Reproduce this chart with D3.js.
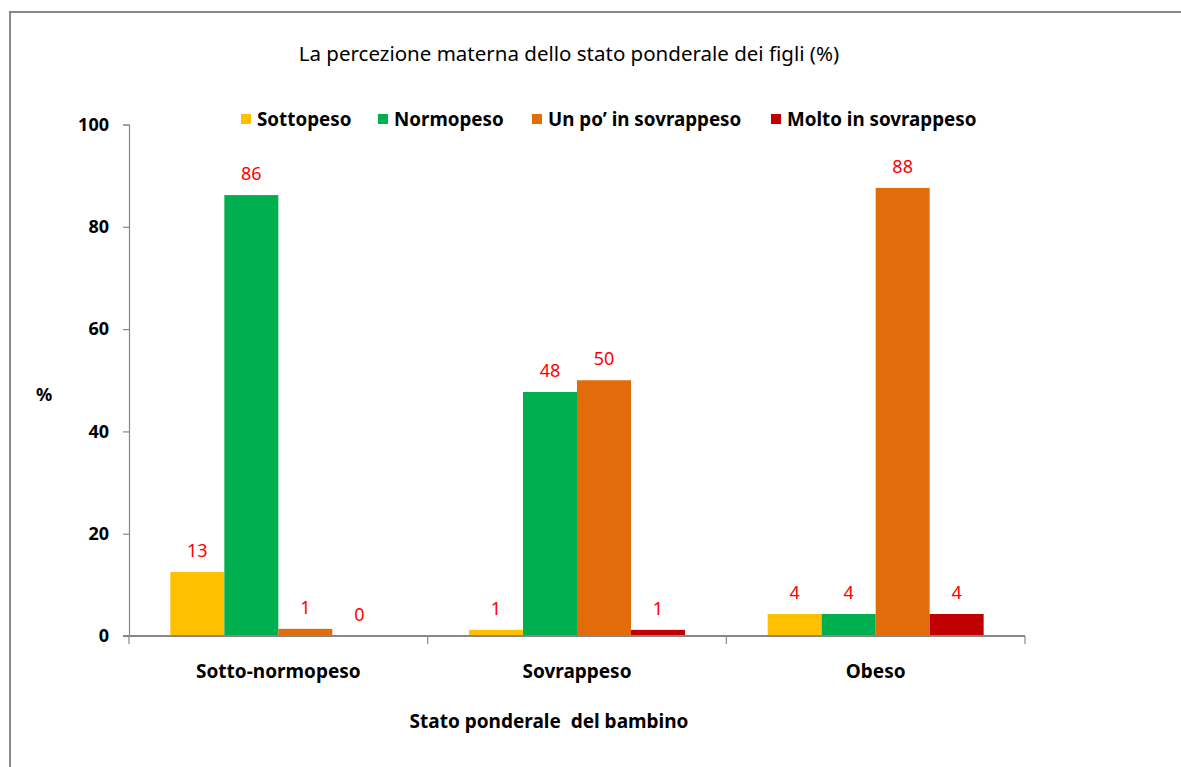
<!DOCTYPE html>
<html><head><meta charset="utf-8">
<script src="https://cdn.jsdelivr.net/npm/d3@7"></script>
<style>body{margin:0;background:#fff;} svg{display:block;}</style>
</head><body>
<svg id="c" width="1181" height="767"></svg>
<script>
const categories = ["Sotto-normopeso", "Sovrappeso", "Obeso"];
const seriesNames = ["Sottopeso", "Normopeso", "Un po\u2019 in sovrappeso", "Molto in sovrappeso"];
const seriesColors = ["#FFC000", "#00B050", "#E36C0A", "#C00000"];
const sottopeso = [12.5, 1.2, 4.3];
const normopeso = [86.2, 47.7, 4.3];
const unPo = [1.4, 50.0, 87.6];
const molto = [0.0, 1.2, 4.3];
const labelsSottopeso = ["13", "1", "4"];
const labelsNormopeso = ["86", "48", "4"];
const labelsUnPo = ["1", "50", "88"];
const labelsMolto = ["0", "1", "4"];
const yTicks = [0, 20, 40, 60, 80, 100];

const values = [sottopeso, normopeso, unPo, molto];
const labels = [labelsSottopeso, labelsNormopeso, labelsUnPo, labelsMolto];

const svg = d3.select("#c");
const font = "'Noto Sans', 'Open Sans', sans-serif";

svg.append("rect").attr("x", 10).attr("y", 12).attr("width", 1200).attr("height", 800)
  .attr("fill", "none").attr("stroke", "#878787").attr("stroke-width", 2);

const x0 = 129, x1 = 1025, y0 = 636, y1 = 124.5;
const x = d3.scaleBand().domain(categories).range([x0, x1]).paddingInner(0).paddingOuter(0);
const y = d3.scaleLinear().domain([0, 100]).range([y0, y1]);
const groupW = x.bandwidth() * 216 / 298.7;
const xs = d3.scaleBand().domain(d3.range(4)).range([0, groupW]).padding(0);
const offset = (x.bandwidth() - groupW) / 2;

// title
svg.append("text").attr("x", 569).attr("y", 61).attr("text-anchor", "middle")
  .attr("font-family", font).attr("font-size", 20.5).attr("fill", "#000")
  .text("La percezione materna dello stato ponderale dei figli (%)");

// bars
const g = svg.append("g");
values.forEach((vals, si) => {
  categories.forEach((c, ci) => {
    const bx = x(c) + offset + xs(si);
    g.append("rect").attr("x", bx).attr("y", y(vals[ci]))
      .attr("width", xs.bandwidth()).attr("height", y(0) - y(vals[ci]))
      .attr("fill", seriesColors[si]);
    g.append("text").attr("x", bx + xs.bandwidth() / 2).attr("y", y(vals[ci]) - 15)
      .attr("text-anchor", "middle").attr("font-family", font).attr("font-size", 18)
      .attr("fill", "#FF0000").text(labels[si][ci]);
  });
});

// y axis
const yAxis = d3.axisLeft(y).tickValues(yTicks).tickSize(6).tickPadding(14);
const ya = svg.append("g").attr("transform", `translate(${x0},0)`).call(yAxis);
ya.select(".domain").attr("stroke", "#878787").attr("stroke-width", 1.2);
ya.selectAll(".tick line").attr("stroke", "#878787").attr("stroke-width", 1.2);
ya.selectAll(".tick text").attr("font-family", font).attr("font-size", 18)
  .attr("font-weight", "bold").attr("fill", "#000");

// x axis
const xa = svg.append("g").attr("transform", `translate(0,${y0})`);
xa.append("line").attr("x1", x0 - 6).attr("x2", x1).attr("y1", 0).attr("y2", 0)
  .attr("stroke", "#878787").attr("stroke-width", 2);
const tickPos = categories.map(c => x(c)).concat([x1]);
xa.selectAll("line.t").data(tickPos).enter().append("line").attr("class", "t")
  .attr("x1", d => d).attr("x2", d => d).attr("y1", 0).attr("y2", 8)
  .attr("stroke", "#878787").attr("stroke-width", 1.2);
xa.selectAll("text").data(categories).enter().append("text")
  .attr("x", d => x(d) + x.bandwidth() / 2).attr("y", 42).attr("text-anchor", "middle")
  .attr("font-family", font).attr("font-size", 19).attr("font-weight", "bold").attr("fill", "#000")
  .text(d => d);

// axis titles
svg.append("text").attr("x", 549).attr("y", 728).attr("text-anchor", "middle")
  .attr("font-family", font).attr("font-size", 19).attr("font-weight", "bold")
  .attr("xml:space", "preserve").style("white-space", "pre")
  .text("Stato ponderale  del bambino");
svg.append("text").attr("x", 44).attr("y", 401).attr("text-anchor", "middle")
  .attr("font-family", font).attr("font-size", 18).attr("font-weight", "bold").text("%");

// legend
const legX = [241, 378, 532, 771];
const leg = svg.append("g");
seriesNames.forEach((n, i) => {
  leg.append("rect").attr("x", legX[i]).attr("y", 114).attr("width", 10).attr("height", 10)
    .attr("fill", seriesColors[i]);
  leg.append("text").attr("x", legX[i] + 16).attr("y", 125.5).attr("font-family", font)
    .attr("font-size", 18.8).attr("font-weight", "bold").attr("fill", "#000").text(n);
});
</script>
</body></html>
